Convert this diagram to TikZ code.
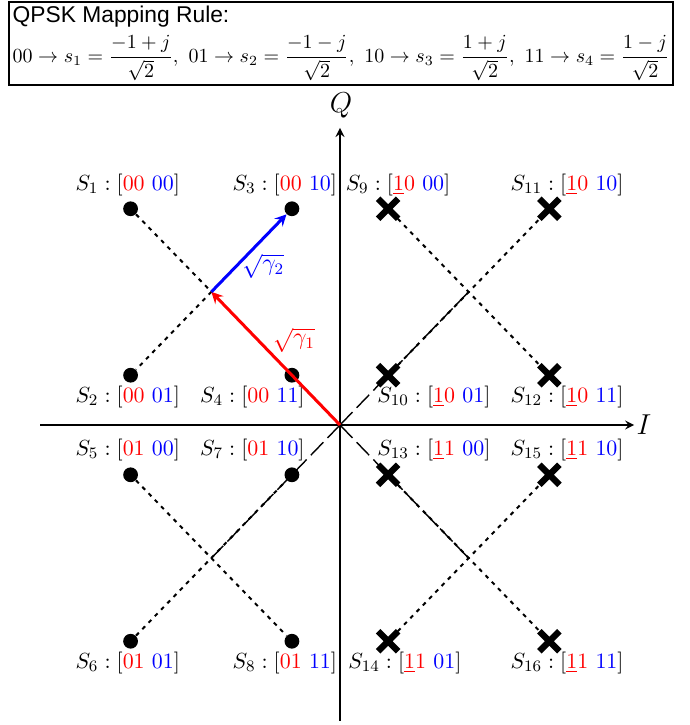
\documentclass[tikz,border=0pt]{standalone}
\usepackage{amsmath}
\usepackage{amssymb}
\usepackage{fontspec}
\usepackage{xcolor}
\usepackage{tikz}
\usetikzlibrary{shapes,arrows,positioning}
\newfontfamily\headfont{Liberation Sans}

\begin{document}
\begin{tikzpicture}[
    dot/.style={circle, fill=black, inner sep=0pt, minimum size=0.26cm},
    crossmark/.style={cross out, draw=black, line width=3.2pt, inner sep=0pt, minimum size=0.24cm},
    lbl/.style={inner sep=0pt, font=\fontsize{10.95}{13}\selectfont},
    axis/.style={->, >=stealth, line width=1pt},
    arrow/.style={->, >=stealth, line width=1.5pt},
    dots/.style={line width=1pt, dash pattern=on 2pt off 2.5pt},
    longdash/.style={line width=0.7pt, dash pattern=on 9pt off 3pt}
]
    \useasboundingbox (-5.975,-5.272) rectangle (6.134,7.469);

    \node[draw, line width=1pt, anchor=north west, inner sep=2pt, align=left] (rule) at (-5.84,7.45)
        {{\headfont\fontsize{11.4}{13}\selectfont QPSK Mapping Rule:}\\[3pt]
        $00\rightarrow s_1=\dfrac{-1+j}{\sqrt{2}},\ 01\rightarrow s_2=\dfrac{-1-j}{\sqrt{2}},\ 10\rightarrow s_3=\dfrac{1+j}{\sqrt{2}},\ 11\rightarrow s_4=\dfrac{1-j}{\sqrt{2}}$};

    \coordinate (O) at (0,0);
    \coordinate (xl) at (-5.27,0);
    \coordinate (xr) at (5.17,0);
    \coordinate (yb) at (0,-5.2);
    \coordinate (yt) at (0,5.22);
    \draw[axis] (xl) -- (xr);
    \draw[axis] (yb) -- (yt);
    \node[anchor=west, font=\Large, inner sep=1pt] (ilab) at (xr) {$I$};
    \node[font=\Large] (qlab) at (0.02,5.62) {$Q$};

    \coordinate (c1) at (-2.26,2.34);
    \coordinate (c2) at (2.26,2.34);
    \coordinate (c3) at (-2.26,-2.34);
    \coordinate (c4) at (2.26,-2.34);

    \node[dot] (s1) at (-3.68,3.80) {};
    \node[dot] (s2) at (-3.68,0.875) {};
    \node[dot] (s3) at (-0.845,3.80) {};
    \node[dot] (s4) at (-0.845,0.875) {};
    \node[dot] (s5) at (-3.68,-0.875) {};
    \node[dot] (s6) at (-3.68,-3.80) {};
    \node[dot] (s7) at (-0.845,-0.875) {};
    \node[dot] (s8) at (-0.845,-3.80) {};
    \node[crossmark] (s9) at (0.845,3.80) {};
    \node[crossmark] (s10) at (0.845,0.875) {};
    \node[crossmark] (s11) at (3.68,3.80) {};
    \node[crossmark] (s12) at (3.68,0.875) {};
    \node[crossmark] (s13) at (0.845,-0.875) {};
    \node[crossmark] (s14) at (0.845,-3.80) {};
    \node[crossmark] (s15) at (3.68,-0.875) {};
    \node[crossmark] (s16) at (3.68,-3.80) {};

    \node[lbl] (l1) at (-3.73,4.22) {$S_1:[\textcolor{red}{00}\ \textcolor{blue}{00}]$};
    \node[lbl] (l2) at (-3.73,0.49) {$S_2:[\textcolor{red}{00}\ \textcolor{blue}{01}]$};
    \node[lbl] (l3) at (-0.97,4.22) {$S_3:[\textcolor{red}{00}\ \textcolor{blue}{10}]$};
    \node[lbl] (l4) at (-1.54,0.49) {$S_4:[\textcolor{red}{00}\ \textcolor{blue}{11}]$};
    \node[lbl] (l5) at (-3.73,-0.44) {$S_5:[\textcolor{red}{01}\ \textcolor{blue}{00}]$};
    \node[lbl] (l6) at (-3.73,-4.18) {$S_6:[\textcolor{red}{01}\ \textcolor{blue}{01}]$};
    \node[lbl] (l7) at (-1.54,-0.44) {$S_7:[\textcolor{red}{01}\ \textcolor{blue}{10}]$};
    \node[lbl] (l8) at (-0.97,-4.18) {$S_8:[\textcolor{red}{01}\ \textcolor{blue}{11}]$};
    \node[lbl] (l9) at (1.02,4.22) {$S_9:[\textcolor{red}{\underline{1}0}\ \textcolor{blue}{00}]$};
    \node[lbl] (l10) at (1.65,0.49) {$S_{10}:[\textcolor{red}{\underline{1}0}\ \textcolor{blue}{01}]$};
    \node[lbl] (l11) at (3.99,4.22) {$S_{11}:[\textcolor{red}{\underline{1}0}\ \textcolor{blue}{10}]$};
    \node[lbl] (l12) at (3.99,0.49) {$S_{12}:[\textcolor{red}{\underline{1}0}\ \textcolor{blue}{11}]$};
    \node[lbl] (l13) at (1.65,-0.44) {$S_{13}:[\textcolor{red}{\underline{1}1}\ \textcolor{blue}{00}]$};
    \node[lbl] (l14) at (1.14,-4.18) {$S_{14}:[\textcolor{red}{\underline{1}1}\ \textcolor{blue}{01}]$};
    \node[lbl] (l15) at (3.99,-0.44) {$S_{15}:[\textcolor{red}{\underline{1}1}\ \textcolor{blue}{10}]$};
    \node[lbl] (l16) at (3.99,-4.18) {$S_{16}:[\textcolor{red}{\underline{1}1}\ \textcolor{blue}{11}]$};

    \draw[dots] (s1) -- (c1) -- (s2);
    \draw[dots] (s5) -- (s8);
    \draw[dots] (s6) -- (s7);
    \draw[dots] (s9) -- (s12);
    \draw[dots] (s10) -- (s11);
    \draw[dots] (s13) -- (s16);
    \draw[dots] (s14) -- (s15);

    \draw[longdash] (O) -- (c2);
    \draw[longdash] (O) -- (c3);
    \draw[longdash] (O) -- (c4);

    \draw[arrow, red] (O) -- (c1);
    \draw[arrow, blue] (c1) -- (s3);
    \node[red, font=\fontsize{12}{14}\selectfont] (g1) at (-0.81,1.49) {$\sqrt{\gamma_1}$};
    \node[blue, font=\fontsize{12}{14}\selectfont] (g2) at (-1.35,2.79) {$\sqrt{\gamma_2}$};
\end{tikzpicture}
\end{document}
